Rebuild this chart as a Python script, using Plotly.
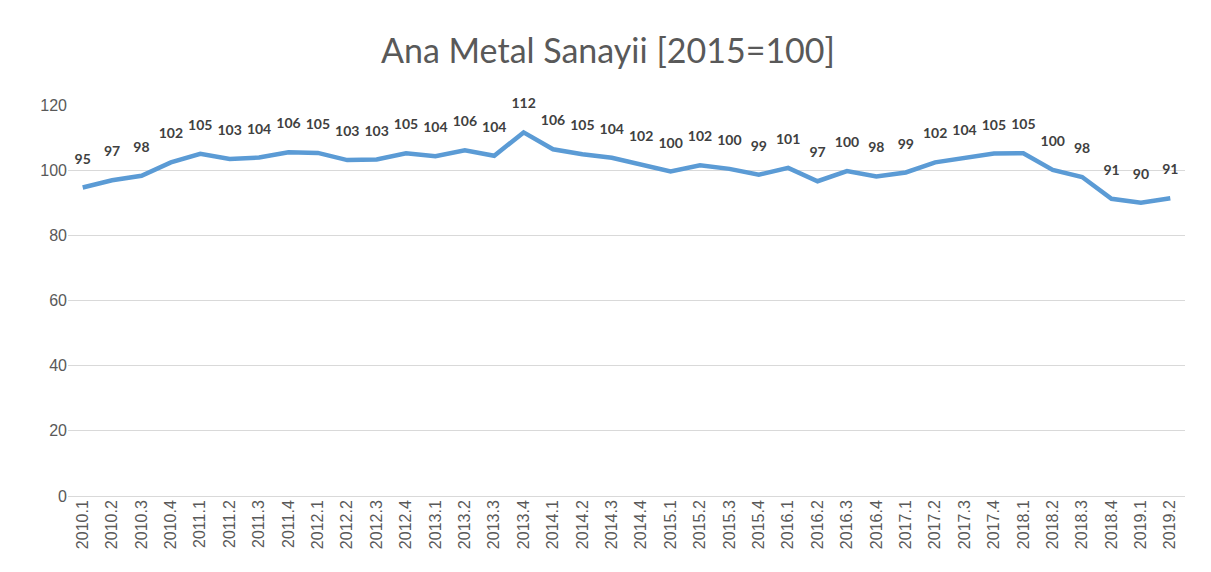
import plotly.graph_objects as go

quarters = ["2010.1","2010.2","2010.3","2010.4","2011.1","2011.2","2011.3","2011.4",
            "2012.1","2012.2","2012.3","2012.4","2013.1","2013.2","2013.3","2013.4",
            "2014.1","2014.2","2014.3","2014.4","2015.1","2015.2","2015.3","2015.4",
            "2016.1","2016.2","2016.3","2016.4","2017.1","2017.2","2017.3","2017.4",
            "2018.1","2018.2","2018.3","2018.4","2019.1","2019.2"]
values = [94.7, 96.9, 98.3, 102.4, 105.0, 103.4, 103.9, 105.5,
          105.3, 103.1, 103.3, 105.2, 104.3, 106.1, 104.4, 111.6,
          106.4, 104.9, 103.8, 101.6, 99.6, 101.5, 100.4, 98.6,
          100.7, 96.6, 99.7, 98.1, 99.3, 102.4, 103.6, 105.1,
          105.2, 100.1, 97.9, 91.2, 90.0, 91.4]
labels = ["<b>" + str(int(v + 0.5)) + "</b>" for v in values]

# page body has an 8px margin; compensate
OFF = 8
W, H = 1211, 572
L, R, T, B = 68 - OFF, 26 + OFF, 105 - OFF, 76 + OFF

fig = go.Figure()
fig.add_trace(go.Scatter(
    x=quarters, y=values, mode="lines",
    line=dict(color="#5B9BD5", width=4.5),
    hoverinfo="x+y", showlegend=False,
))
fig.add_trace(go.Scatter(
    x=quarters, y=values, mode="markers+text", text=labels,
    textposition="top center",
    marker=dict(size=31, opacity=0, color="#5B9BD5"),
    textfont=dict(family="Lato, Open Sans, sans-serif", size=14, color="#404040"),
    hoverinfo="skip", showlegend=False, cliponaxis=False,
))

fig.update_layout(
    width=W, height=H,
    margin=dict(l=L, r=R, t=T, b=B),
    paper_bgcolor="white", plot_bgcolor="white",
    title=dict(text="Ana Metal Sanayii [2015=100]", x=(608 - OFF) / W, xanchor="center",
               y=1 - (51 - OFF) / H, yanchor="middle",
               font=dict(family="Lato, Open Sans, sans-serif", size=34, color="#595959")),
    xaxis=dict(type="category", tickangle=-90, showgrid=False, zeroline=False,
               showline=False, ticks="", automargin=False,
               tickfont=dict(family="Liberation Sans, Arial", size=16, color="#595959"),
               range=[-0.5, len(quarters) - 0.5]),
    yaxis=dict(range=[0, 120], dtick=20, showgrid=True, gridcolor="#D9D9D9", gridwidth=1,
               zeroline=True, zerolinecolor="#D9D9D9", zerolinewidth=1,
               showline=False, ticks="", automargin=False,
               tickfont=dict(family="Liberation Sans, Arial", size=16, color="#595959")),
)

fig.write_html("out.html")
